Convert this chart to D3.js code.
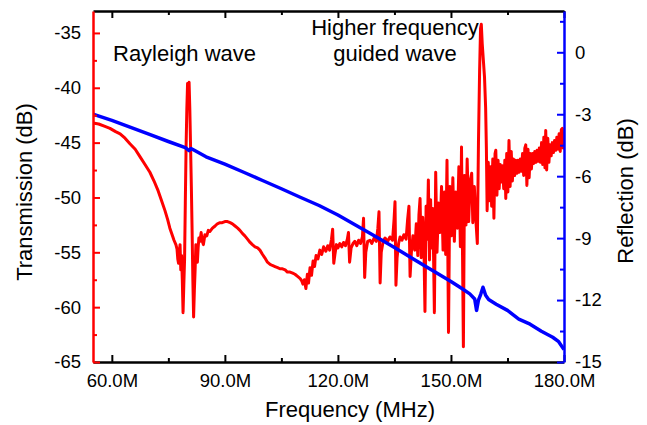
<!DOCTYPE html>
<html>
<head>
<meta charset="utf-8">
<script src="https://cdn.jsdelivr.net/npm/d3@7"></script>
<style>
body { margin: 0; background: #fff; }
svg { display: block; font-family: "Liberation Sans", Arial, sans-serif; }
</style>
</head>
<body>
<svg id="chart" width="647" height="425"></svg>
<script>
// Transmission trace (left axis): frequency in MHz, level in dB
var transFreq = [
  55.0, 56.5, 58.0, 59.5, 61.0, 62.2, 63.5, 64.8, 66.2, 67.5, 68.8, 70.1, 71.2, 72.3, 73.2, 74.1, 74.8, 75.4, 76.0, 76.5,
  77.0, 77.3, 77.5, 77.7, 77.9, 78.1, 78.3, 78.5, 78.7, 78.9, 79.1, 79.3, 79.5, 79.7, 79.9, 80.1, 80.3, 80.5, 80.7, 80.9,
  81.1, 81.3, 81.5, 81.7, 81.9, 82.1, 82.3, 82.5, 82.7, 82.9, 83.1, 83.4, 83.7, 84.0, 84.3, 84.7, 85.2, 85.6, 86.0, 86.7,
  87.4, 88.0, 88.7, 89.3, 90.0, 90.7, 91.4, 92.0, 92.7, 93.4, 94.0, 94.7, 95.3, 96.0, 96.7, 97.3, 98.0, 98.7, 99.3, 100.0,
  100.6, 101.3, 102.0, 102.6, 103.3, 104.0, 104.6, 105.3, 106.0, 106.6, 107.3, 108.0, 108.6, 109.3, 110.0, 110.4, 110.7, 111.1, 111.5, 111.9,
  112.2, 112.6, 113.0, 113.4, 113.8, 114.2, 114.7, 115.2, 115.7, 116.2, 116.8, 117.3, 117.8, 118.3, 118.6, 118.9, 119.2, 119.6, 120.0, 120.5,
  121.0, 121.5, 122.0, 122.5, 122.8, 123.1, 123.5, 124.0, 124.5, 125.0, 125.5, 126.0, 126.5, 126.8, 127.1, 127.4, 127.9, 128.5, 129.0, 129.6,
  130.2, 130.6, 130.9, 131.2, 131.5, 132.0, 132.5, 133.2, 133.8, 134.5, 134.9, 135.15, 135.4, 135.7, 136.1, 136.5, 137.0, 137.5, 138.1, 138.5,
  138.85, 139.15, 139.5, 139.9,
  140.0, 140.4, 140.8, 141.2, 141.5, 141.8, 142.1, 142.5, 142.8, 143.1,
  143.4, 143.7, 144.0, 144.3, 144.6, 144.9, 145.2, 145.6, 145.95, 146.3,
  146.7, 147.1, 147.5, 147.9, 148.3, 148.6, 148.95, 149.35, 149.7, 150.1,
  150.5, 150.9, 151.3, 151.7, 152.1, 152.5, 152.8, 153.3, 153.6, 154.0,
  154.3, 154.7, 155.1, 155.5, 155.8, 156.2, 156.6, 157.0,
  157.3, 157.6, 157.85, 158.05, 158.3, 158.6, 158.9, 159.2, 159.4, 159.6,
  159.9, 160.2, 160.5, 160.8, 161.1, 161.4, 161.7, 161.9, 162.2, 162.5,
  162.8, 163.1, 163.4, 163.7, 164.0, 164.3, 164.55, 164.8, 165.1, 165.4,
  165.7, 166.0, 166.3, 166.6, 166.9, 167.2, 167.5, 167.8, 168.1, 168.4,
  168.7, 169.0, 169.3, 169.6, 169.85, 170.15, 170.45, 170.75, 171.05, 171.35,
  171.65, 171.95, 172.25, 172.55, 172.85, 173.15, 173.45, 173.75, 174.05, 174.35,
  174.65, 174.95, 175.15, 175.4, 175.7, 176.0, 176.3, 176.6, 176.9, 177.2,
  177.5, 177.8, 178.1, 178.4, 178.7, 179.0, 179.3, 179.55, 179.8, 180.0
];
var transDb = [
  -43.2, -43.3, -43.5, -43.7, -44.0, -44.2, -44.6, -45.1, -45.6, -46.3, -47.0, -47.7, -48.5, -49.4, -50.3, -51.2, -52.0, -52.8, -53.4, -53.9,
  -54.3, -54.7, -55.6, -56.0, -55.0, -54.3, -56.6, -55.3, -57.5, -60.5, -58.0, -55.7, -50.5, -45.5, -42.0, -39.6, -40.5, -39.5, -42.0, -45.5,
  -49.0, -53.0, -57.5, -60.9, -58.5, -56.6, -54.3, -55.0, -55.9, -54.6, -53.7, -54.0, -53.2, -54.0, -54.3, -53.4, -53.5, -53.0, -53.1, -52.8,
  -52.6, -52.4, -52.3, -52.3, -52.2, -52.2, -52.3, -52.4, -52.6, -52.8, -53.0, -53.3, -53.5, -53.8, -54.1, -54.3, -54.5, -54.6, -54.8, -55.2,
  -55.5, -55.9, -56.1, -56.2, -56.3, -56.4, -56.5, -56.5, -56.6, -56.8, -56.8, -56.9, -57.0, -57.2, -57.4, -57.6, -57.9, -57.5, -58.3, -57.0,
  -57.8, -56.4, -57.1, -55.8, -56.3, -55.3, -55.6, -54.8, -55.2, -54.5, -54.9, -54.4, -54.8, -53.8, -52.9, -56.0, -55.2, -54.3, -54.6, -54.2,
  -54.5, -54.1, -54.4, -53.8, -53.2, -55.9, -54.6, -54.2, -54.0, -54.4, -53.9, -54.2, -53.6, -51.9, -57.3, -55.0, -54.0, -53.9, -54.2, -53.7,
  -54.0, -52.8, -51.3, -57.8, -55.0, -54.0, -53.7, -54.0, -53.6, -53.9, -52.0, -50.4, -58.0, -55.5, -54.2, -53.6, -53.9, -53.4, -53.8, -52.0,
  -50.8, -57.2, -55.0, -53.5,
  -53.6, -54.8, -52.4, -55.3, -51.6, -50.1, -55.5, -51.8, -54.0, -60.4,
  -50.8, -53.8, -48.4, -55.7, -50.2, -54.6, -51.0, -60.5, -47.7, -55.0,
  -50.5, -53.2, -49.0, -54.8, -49.5, -55.2, -46.6, -62.3, -49.0, -53.5,
  -48.2, -54.0, -49.5, -52.8, -47.2, -54.5, -45.4, -63.6, -48.0, -52.5,
  -46.5, -52.2, -48.5, -47.8, -52.3, -49.0, -52.0, -54.2,
  -45.0, -38.5, -34.6, -34.2, -36.0, -37.5, -39.0, -41.8, -45.5, -51.2,
  -46.8, -50.3, -47.2, -50.8, -46.5, -51.9, -46.0, -45.7, -49.8, -46.6,
  -49.2, -47.0, -48.6, -47.1, -49.2, -46.6, -50.1, -46.0, -49.5, -44.8,
  -49.0, -45.8, -48.5, -46.5, -48.0, -46.6, -47.8, -46.6, -47.7, -46.5,
  -47.6, -46.0, -48.0, -45.5, -45.2, -48.9, -45.6, -48.2, -46.0, -47.4,
  -46.0, -46.9, -45.8, -46.8, -45.7, -46.7, -45.5, -46.8, -45.0, -47.0,
  -44.5, -47.3, -43.9, -47.5, -44.6, -46.8, -45.2, -46.2, -45.0, -45.9,
  -44.8, -45.7, -44.5, -45.6, -44.2, -45.8, -43.8, -43.7, -45.5, -44.4
];

// Reflection trace (right axis)
var reflFreq = [55.0, 60.0, 65.0, 70.0, 75.0, 79.5, 80.5, 81.0, 82.0, 85.0, 90.0, 95.0, 100.0, 105.0, 110.0, 115.0, 120.0, 125.0, 130.0, 135.0,
  140.0, 145.0, 150.0, 153.0, 155.0, 156.3, 156.8, 157.3, 157.9, 158.5, 159.2, 160.0, 162.0, 165.0, 168.0, 171.0, 174.0, 177.0, 178.5, 180.0];
var reflDb = [-3.00, -3.30, -3.64, -3.98, -4.32, -4.62, -4.76, -4.66, -4.76, -5.06, -5.42, -5.81, -6.21, -6.61, -7.02, -7.42, -7.88, -8.40, -8.92, -9.45,
  -10.01, -10.56, -11.10, -11.45, -11.70, -11.95, -12.50, -12.00, -11.72, -11.38, -11.77, -11.97, -12.20, -12.50, -12.92, -13.17, -13.51, -13.80, -14.00, -14.40];

// Tick values
var xMajor = [60, 90, 120, 150, 180];
var xMinor = [75, 105, 135, 165];
var leftMajor = [-65, -60, -55, -50, -45, -40, -35];
var leftMinor = [-62.5, -57.5, -52.5, -47.5, -42.5, -37.5];
var rightMajor = [-15, -12, -9, -6, -3, 0];
var rightMinor = [-13.5, -10.5, -7.5, -4.5, -1.5, 1.5];

// Plot frame (window.top is taken, so use own names)
var plotL = 93, plotR = 564, plotT = 11, plotB = 362;

var x = d3.scaleLinear().domain([55, 180]).range([plotL, plotR]);
var yL = d3.scaleLinear().domain([-65, -33]).range([plotB, plotT]);
var yR = d3.scaleLinear().domain([-15, 2]).range([plotB, plotT]);

var svg = d3.select("#chart");

svg.append("defs").append("clipPath").attr("id", "plot")
    .append("rect").attr("x", plotL).attr("y", plotT).attr("width", plotR - plotL).attr("height", plotB - plotT);

// Pair up the arrays (d3.zip stops at the shorter one)
var transData = d3.zip(transFreq, transDb);
var reflData = d3.zip(reflFreq, reflDb);

var transLine = d3.line()
    .x(function (d) { return x(d[0]); })
    .y(function (d) { return yL(d[1]); });
var reflLine = d3.line()
    .x(function (d) { return x(d[0]); })
    .y(function (d) { return yR(d[1]); });

svg.append("path").datum(transData)
    .attr("clip-path", "url(#plot)")
    .attr("d", transLine)
    .attr("fill", "none").attr("stroke", "#ff0000").attr("stroke-width", 3)
    .attr("stroke-linejoin", "round");

svg.append("path").datum(reflData)
    .attr("clip-path", "url(#plot)")
    .attr("d", reflLine)
    .attr("fill", "none").attr("stroke", "#0000ff").attr("stroke-width", 3.5)
    .attr("stroke-linejoin", "round");

// Axes: ticks point inward, majors 7px, minors 4px
function styleAxis(g, color, fontSize) {
    g.attr("font-family", null).attr("font-size", null);
    g.select(".domain").attr("stroke", color).attr("stroke-width", 2.5);
    g.selectAll(".tick line").attr("stroke", color).attr("stroke-width", 2);
    g.selectAll(".tick text").attr("fill", "#000").style("font-size", fontSize);
}

var bottomAxis = svg.append("g").attr("transform", "translate(0," + plotB + ")")
    .call(d3.axisBottom(x).tickValues(xMajor).tickSizeInner(-7).tickSizeOuter(0).tickPadding(12)
        .tickFormat(function (d) { return d.toFixed(1) + "M"; }));
styleAxis(bottomAxis, "#000", "18.5px");
svg.append("g").attr("transform", "translate(0," + plotB + ")")
    .call(d3.axisBottom(x).tickValues(xMinor).tickSizeInner(-4).tickSizeOuter(0).tickFormat(""))
    .call(function (g) { g.select(".domain").remove(); styleAxis(g, "#000", "0px"); });

var topAxis = svg.append("g").attr("transform", "translate(0," + plotT + ")")
    .call(d3.axisTop(x).tickValues(xMajor).tickSizeInner(-7).tickSizeOuter(0).tickFormat(""));
styleAxis(topAxis, "#000", "0px");
svg.append("g").attr("transform", "translate(0," + plotT + ")")
    .call(d3.axisTop(x).tickValues(xMinor).tickSizeInner(-4).tickSizeOuter(0).tickFormat(""))
    .call(function (g) { g.select(".domain").remove(); styleAxis(g, "#000", "0px"); });

var leftAxis = svg.append("g").attr("transform", "translate(" + plotL + ",0)")
    .call(d3.axisLeft(yL).tickValues(leftMajor).tickSizeInner(-7).tickSizeOuter(0).tickPadding(12)
        .tickFormat(d3.format("d")));
styleAxis(leftAxis, "#ff0000", "18.5px");
svg.append("g").attr("transform", "translate(" + plotL + ",0)")
    .call(d3.axisLeft(yL).tickValues(leftMinor).tickSizeInner(-4).tickSizeOuter(0).tickFormat(""))
    .call(function (g) { g.select(".domain").remove(); styleAxis(g, "#ff0000", "0px"); });

var rightAxis = svg.append("g").attr("transform", "translate(" + plotR + ",0)")
    .call(d3.axisRight(yR).tickValues(rightMajor).tickSizeInner(-7).tickSizeOuter(0).tickPadding(11)
        .tickFormat(d3.format("d")));
styleAxis(rightAxis, "#0000ff", "18.5px");
svg.append("g").attr("transform", "translate(" + plotR + ",0)")
    .call(d3.axisRight(yR).tickValues(rightMinor).tickSizeInner(-4).tickSizeOuter(0).tickFormat(""))
    .call(function (g) { g.select(".domain").remove(); styleAxis(g, "#0000ff", "0px"); });

// Minus signs as plain hyphens, like the original
svg.selectAll(".tick text").text(function () { return this.textContent.replace("\u2212", "-"); });

// Titles
svg.append("text").attr("x", 350).attr("y", 417).attr("text-anchor", "middle")
    .style("font-size", "22px").text("Frequency (MHz)");
svg.append("text").attr("transform", "translate(32,192)rotate(-90)").attr("text-anchor", "middle")
    .style("font-size", "22px").text("Transmission (dB)");
svg.append("text").attr("transform", "translate(633,191)rotate(-90)").attr("text-anchor", "middle")
    .style("font-size", "22px").text("Reflection (dB)");

// Annotations
svg.append("text").attr("x", 113).attr("y", 61).style("font-size", "22px").text("Rayleigh wave");
svg.append("text").attr("x", 395).attr("y", 35).attr("text-anchor", "middle")
    .style("font-size", "22px").text("Higher frequency");
svg.append("text").attr("x", 395).attr("y", 61).attr("text-anchor", "middle")
    .style("font-size", "22px").text("guided wave");
</script>
</body>
</html>
